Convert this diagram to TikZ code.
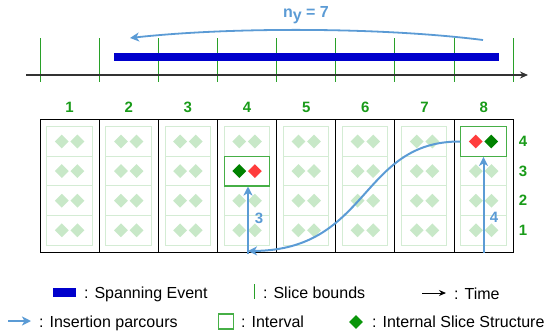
\documentclass[tikz,border=0pt]{standalone}
\usepackage{fontspec}
\setmainfont{Liberation Sans}
\usepackage{tikz}
\usetikzlibrary{arrows.meta,shapes.geometric,positioning}
\definecolor{slicegreen}{RGB}{40,160,40}
\definecolor{labelgreen}{RGB}{25,155,25}
\definecolor{palegreen}{RGB}{200,232,200}
\definecolor{cellgreen}{RGB}{212,236,212}
\definecolor{intervalgreen}{RGB}{70,175,70}
\definecolor{darkgem}{RGB}{0,130,0}
\definecolor{keygem}{RGB}{10,150,10}
\definecolor{hotred}{RGB}{255,60,60}
\definecolor{eventblue}{RGB}{0,0,204}
\definecolor{pathblue}{RGB}{91,155,213}
\definecolor{axisgray}{RGB}{51,51,51}

\tikzset{
  gem/.style={diamond, minimum width=14pt, minimum height=14pt, inner sep=0pt},
  slot/.style={draw=intervalgreen, line width=1.2pt, fill=white, minimum width=45.3pt, minimum height=29.6pt, inner sep=0pt},
  colnum/.style={labelgreen, font=\fontsize{15}{18}\selectfont\bfseries},
  steplabel/.style={pathblue, font=\fontsize{15}{18}\selectfont\bfseries},
  route/.style={pathblue, line width=2pt, -{Stealth[length=9pt,width=9pt,inset=2.5pt]}},
  keytext/.style={anchor=base west, inner sep=0pt, font=\fontsize{16}{19}\selectfont}
}

\begin{document}
\begin{tikzpicture}[x=1pt,y=-1pt]
    \useasboundingbox (0,0) rectangle (544,333);

    % time axis with slice bounds
    \coordinate (t0) at (26,75);
    \coordinate (t1) at (528,75);
    \foreach \i in {0,...,8}
        \draw[slicegreen, line width=1pt] ({40+\i*59.16},38) -- ({40+\i*59.16},82);
    \draw[axisgray, line width=1.4pt, -{Stealth[length=8pt,width=7pt]}] (t0) -- (t1);
    \fill[eventblue] (114,53) rectangle (498.6,61);

    \coordinate (arcA) at (483,40);
    \coordinate (arcB) at (130,38);
    \draw[route, line width=1.8pt] (arcA) .. controls (380,27) and (230,27) .. (arcB);
    \node[pathblue, font=\fontsize{16}{19}\selectfont\bfseries] (ny) at (306,15) {n\raisebox{-2.5pt}{y} = 7};

    % slices
    \foreach \i in {1,...,8} {
        \pgfmathsetmacro\xa{40+(\i-1)*59.16}
        \draw[line width=1pt] (\xa,119.3) rectangle ++(59.16,133);
        \node[colnum] (c\i) at ({\xa+29.58},107) {\i};
        \foreach \r in {0,...,3} {
            \draw[cellgreen, line width=1pt] ({\xa+6.7},{126.7+\r*29.6}) rectangle ++(45.3,29.6);
            \node[gem, fill=palegreen] (g\i-\r-a) at ({\xa+21.8},{141.5+\r*29.6}) {};
            \node[gem, fill=palegreen] (g\i-\r-b) at ({\xa+37.4},{141.5+\r*29.6}) {};
        }
    }
    \foreach \r/\lab in {0/4,1/3,2/2,3/1}
        \node[colnum] (r\lab) at (523,{141.5+\r*29.6}) {\lab};

    % intervals found
    \node[slot] (h4) at (246.85,171.1) {};
    \node[gem, fill=darkgem] (h4a) at (239.3,171.1) {};
    \node[gem, fill=hotred] (h4b) at (254.9,171.1) {};
    \node[slot] (h8) at (483.5,141.5) {};
    \node[gem, fill=hotred] (h8a) at (475.7,141.5) {};
    \node[gem, fill=darkgem] (h8b) at (491.3,141.5) {};

    % insertion parcours
    \coordinate (turn) at (248,251);
    \coordinate (rise4) at (248,254);
    \coordinate (rise8) at (483.5,253);
    \draw[route] (h8.west) .. controls (360,141) and (370,250) .. (turn);
    \draw[route] (rise4) -- (h4.south -| rise4);
    \draw[route] (rise8) -- (h8.south);
    \node[steplabel] (s3) at (259,218) {3};
    \node[steplabel] (s4) at (494,217) {4};

    % legend
    \node[fill=eventblue, minimum width=23pt, minimum height=9pt, inner sep=0pt] (keyev) at (64.5,292.5) {};
    \node[keytext] (txev) at (84,298) {: Spanning Event};
    \coordinate (bnd0) at (254,284);
    \coordinate (bnd1) at (254,299);
    \draw[slicegreen, line width=1pt] (bnd0) -- (bnd1);
    \node[keytext] (txbnd) at (263,298) {: Slice bounds};
    \coordinate (tk0) at (422,293);
    \coordinate (tk1) at (446,293);
    \draw[line width=1pt, -{Stealth[length=7pt,width=6pt]}] (tk0) -- (tk1);
    \node[keytext] (txtime) at (454,299) {: Time};

    \coordinate (ik0) at (8,321);
    \coordinate (ik1) at (31,321);
    \draw[route] (ik0) -- (ik1);
    \node[keytext] (txins) at (39,327.5) {: Insertion parcours};
    \node[draw=intervalgreen, line width=1.2pt, minimum size=15pt, inner sep=0pt] (keyint) at (226,321.5) {};
    \node[keytext] (txint) at (241,327.5) {: Interval};
    \node[gem, fill=keygem] (keygm) at (356,322) {};
    \node[keytext] (txgem) at (372,327.5) {: Internal Slice Structure};
\end{tikzpicture}
\end{document}
